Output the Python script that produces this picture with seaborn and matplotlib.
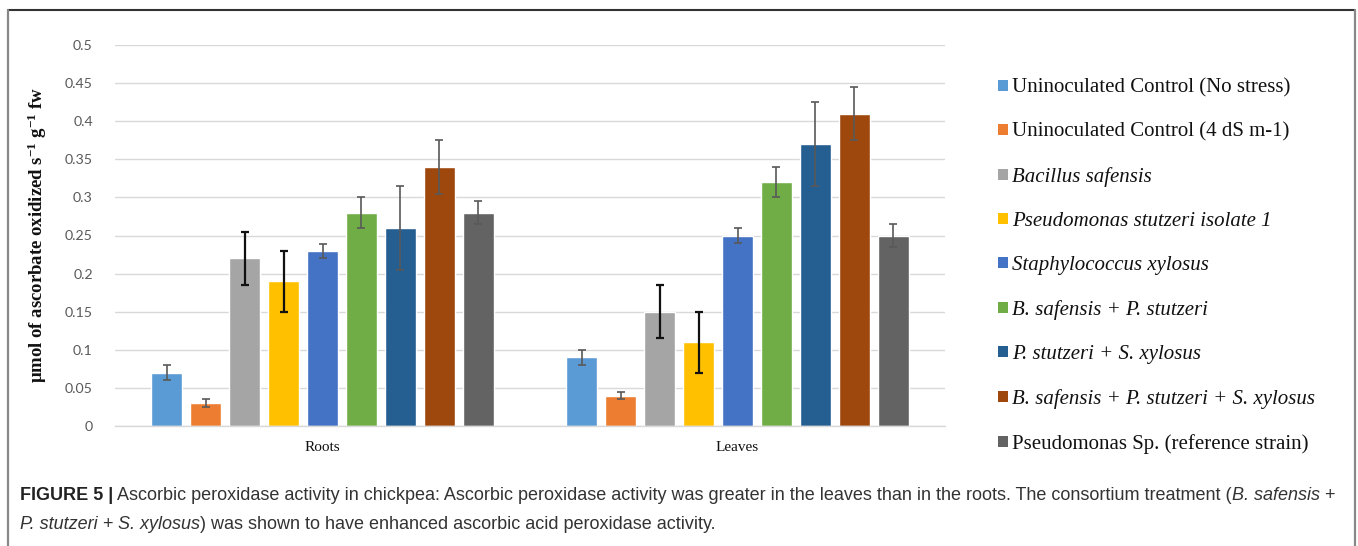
import numpy as np
import pandas as pd
import matplotlib
matplotlib.use("Agg")
import matplotlib.pyplot as plt
import seaborn as sns
from matplotlib.lines import Line2D
from matplotlib.patches import Patch

# ---------------- data ----------------
tissues = ["Roots", "Leaves"]
treatments = [
    "Uninoculated Control (No stress)",
    "Uninoculated Control (4 dS m-1)",
    "Bacillus safensis",
    "Pseudomonas stutzeri isolate 1",
    "Staphylococcus xylosus",
    "B. safensis + P. stutzeri",
    "P. stutzeri + S. xylosus",
    "B. safensis + P. stutzeri + S. xylosus",
    "Pseudomonas Sp. (reference strain)",
]
italic_labels = [False, False, True, True, True, True, True, True, False]
roots_values = [0.07, 0.03, 0.22, 0.19, 0.23, 0.28, 0.26, 0.34, 0.28]
leaves_values = [0.09, 0.04, 0.15, 0.11, 0.25, 0.32, 0.37, 0.41, 0.25]
roots_err = [0.01, 0.005, 0.035, 0.04, 0.009, 0.02, 0.055, 0.035, 0.015]
leaves_err = [0.01, 0.005, 0.035, 0.04, 0.01, 0.02, 0.055, 0.035, 0.015]
colors = ["#5B9BD5", "#ED7D31", "#A5A5A5", "#FFC000", "#4472C4",
          "#70AD47", "#255E91", "#9E480E", "#636363"]
yticks = [0, 0.05, 0.1, 0.15, 0.2, 0.25, 0.3, 0.35, 0.4, 0.45, 0.5]
ytick_labels = ["0", "0.05", "0.1", "0.15", "0.2", "0.25", "0.3", "0.35", "0.4", "0.45", "0.5"]

rows = []
for t, v, e in zip(treatments, roots_values, roots_err):
    rows.append(("Roots", t, v, e))
for t, v, e in zip(treatments, leaves_values, leaves_err):
    rows.append(("Leaves", t, v, e))
df = pd.DataFrame(rows, columns=["Tissue", "Treatment", "Value", "Err"])

# ---------------- style ----------------
sns.set_theme(style="white")
plt.rcParams["font.family"] = ["Liberation Serif", "DejaVu Serif"]
plt.rcParams["mathtext.fontset"] = "custom"
plt.rcParams["mathtext.rm"] = "Liberation Serif:bold"
plt.rcParams["mathtext.it"] = "Liberation Serif:bold"
plt.rcParams["mathtext.bf"] = "Liberation Serif:bold"

fig = plt.figure(figsize=(13.58, 5.46), dpi=100)
ax = fig.add_axes([115 / 1358, (546 - 426) / 546, (945 - 115) / 1358, (426 - 45) / 546])

sns.barplot(data=df, x="Tissue", y="Value", hue="Treatment", order=tissues,
            hue_order=treatments, palette=colors, width=0.845, gap=0.2,
            errorbar=None, saturation=1, ax=ax, legend=False)

# error bars at the bar centres produced by seaborn
bar_containers = list(ax.containers)
for i, cont in enumerate(bar_containers):
    sub = df[df["Treatment"] == treatments[i]].set_index("Tissue").loc[tissues]
    xs = [b.get_x() + b.get_width() / 2 for b in cont]
    ys = [b.get_height() for b in cont]
    strong = i in (2, 3)
    ax.errorbar(xs, ys, yerr=sub["Err"].values, fmt="none",
                ecolor="#111111" if strong else "#595959",
                elinewidth=1.6 if strong else 1.2,
                capsize=3.2, capthick=1.6 if strong else 1.2, zorder=5)

ax.set_ylim(0, 0.5)
ax.set_xlim(-0.5, 1.5)
ax.set_yticks(yticks)
ax.set_yticklabels(ytick_labels, family="Lato", fontsize=10.2, color="#595959")
ax.yaxis.grid(True, color="#D9D9D9", linewidth=1)
ax.set_axisbelow(True)
for s in ["top", "right", "left"]:
    ax.spines[s].set_visible(False)
ax.spines["bottom"].set_color("#D9D9D9")
ax.spines["bottom"].set_linewidth(1)
ax.tick_params(axis="y", length=0, pad=16)
ax.tick_params(axis="x", length=0, pad=11)
ax.set_xticks([0, 1])
ax.set_xticklabels(tissues, fontsize=11, color="#111111")
ax.set_xlabel("")
ax.set_ylabel(r"μmol of ascorbate oxidized s$^{-1}$ g$^{-1}$ fw",
              fontsize=13.5, fontweight="bold", color="#111111")
ax.yaxis.set_label_coords(-0.079, 0.5)

# legend
handles = [Patch(facecolor=c, edgecolor="none") for c in colors]
leg = fig.legend(handles, treatments, loc="upper left",
                 bbox_to_anchor=(990 / 1358, 1 - 70 / 546), frameon=False,
                 fontsize=15, handlelength=0.45, handleheight=0.45,
                 handletextpad=0.22, labelspacing=1.205, borderaxespad=0)
for txt, it in zip(leg.get_texts(), italic_labels):
    txt.set_color("#111111")
    if it:
        txt.set_fontstyle("italic")

# frame of the figure panel
fig.add_artist(Line2D([7.5 / 1358, 1355 / 1358], [1 - 9.5 / 546, 1 - 9.5 / 546],
                      transform=fig.transFigure, color="#333333", linewidth=1.5))
fig.add_artist(Line2D([7.5 / 1358, 7.5 / 1358], [0, 1 - 9.5 / 546],
                      transform=fig.transFigure, color="#888888", linewidth=1.6))
fig.add_artist(Line2D([1355 / 1358, 1355 / 1358], [0, 1 - 9.5 / 546],
                      transform=fig.transFigure, color="#888888", linewidth=1.6))

# caption with mixed styles
cap_font = ["Liberation Sans", "DejaVu Sans"]
line1 = [("FIGURE 5 |", "bold", "normal"),
         (" Ascorbic peroxidase activity in chickpea: Ascorbic peroxidase activity was greater in the leaves than in the roots. The consortium treatment (", "normal", "normal"),
         ("B. safensis", "normal", "italic"),
         (" +", "normal", "normal")]
line2 = [("P. stutzeri", "normal", "italic"),
         (" + ", "normal", "normal"),
         ("S. xylosus", "normal", "italic"),
         (") was shown to have enhanced ascorbic acid peroxidase activity.", "normal", "normal")]

fig.canvas.draw()
renderer = fig.canvas.get_renderer()


def draw_line(pieces, x0, y0, size):
    x = x0
    for s, w, st in pieces:
        t = fig.text(x, y0, s, fontsize=size, fontweight=w, fontstyle=st,
                     family=cap_font, color="#333333" if w == "normal" else "#222222",
                     va="baseline", ha="left")
        bb = t.get_window_extent(renderer=renderer)
        x += bb.width / fig.bbox.width


draw_line(line1, 20 / 1358, 1 - 500 / 546, 13.0)
draw_line(line2, 20 / 1358, 1 - 529 / 546, 13.0)

fig.savefig("out.png", dpi=100, facecolor="white")
